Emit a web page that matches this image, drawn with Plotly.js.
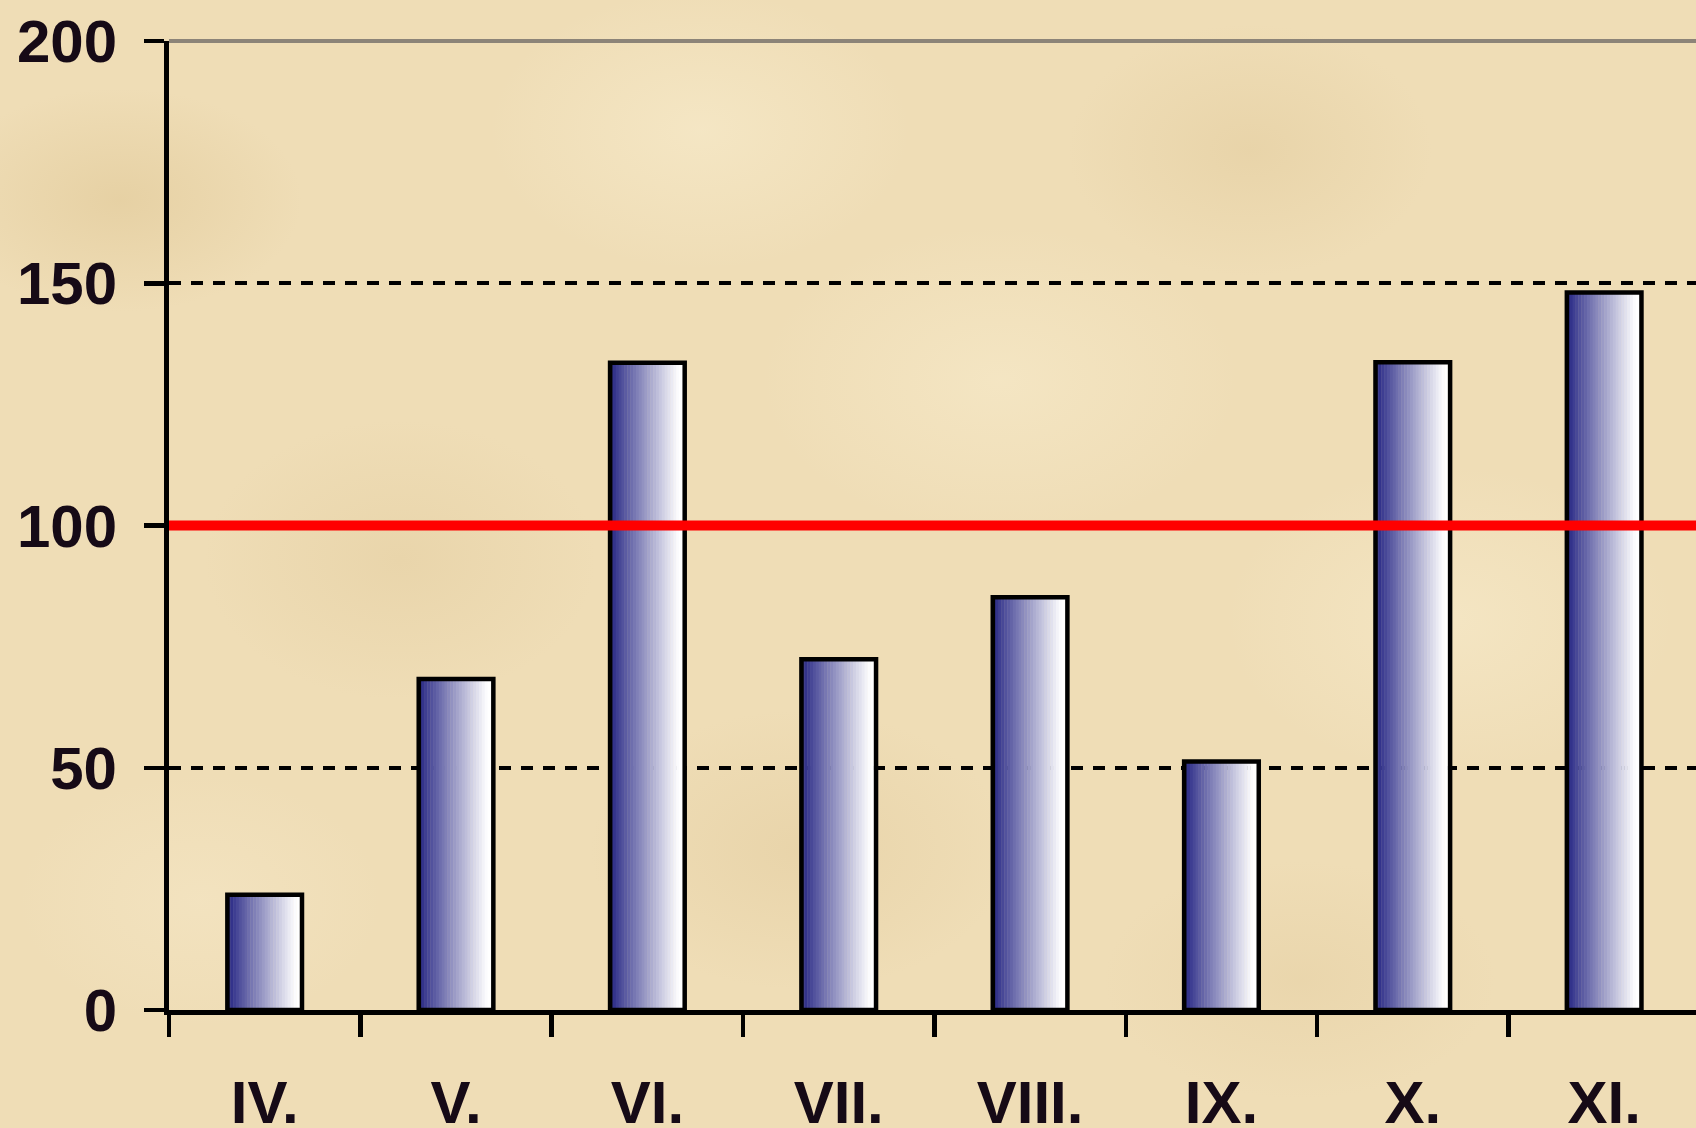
<!DOCTYPE html>
<html>
<head>
<meta charset="utf-8">
<script src="https://cdn.plot.ly/plotly-3.0.1.min.js"></script>
<style>
  html, body { margin: 0; padding: 0; width: 1696px; height: 1128px; overflow: hidden; }
  body {
    background-color: #efddb6;
    background-image:
      radial-gradient(ellipse 260px 160px at 120px 200px, rgba(214,186,130,0.35), rgba(214,186,130,0) 70%),
      radial-gradient(ellipse 300px 200px at 700px 130px, rgba(248,236,205,0.6), rgba(248,236,205,0) 70%),
      radial-gradient(ellipse 260px 180px at 1250px 150px, rgba(220,195,145,0.35), rgba(220,195,145,0) 70%),
      radial-gradient(ellipse 340px 220px at 1000px 380px, rgba(248,236,205,0.55), rgba(248,236,205,0) 70%),
      radial-gradient(ellipse 280px 200px at 400px 560px, rgba(222,198,150,0.35), rgba(222,198,150,0) 70%),
      radial-gradient(ellipse 320px 220px at 1450px 620px, rgba(248,236,205,0.55), rgba(248,236,205,0) 70%),
      radial-gradient(ellipse 300px 200px at 800px 850px, rgba(218,192,142,0.3), rgba(218,192,142,0) 70%),
      radial-gradient(ellipse 260px 180px at 200px 900px, rgba(246,232,200,0.5), rgba(246,232,200,0) 70%),
      radial-gradient(ellipse 280px 170px at 1300px 980px, rgba(222,198,150,0.3), rgba(222,198,150,0) 70%);
  }
  #chart { width: 1696px; height: 1128px; }
</style>
</head>
<body>
<div id="chart"></div>
<script>
// ---- data ----
const categories = ['IV.', 'V.', 'VI.', 'VII.', 'VIII.', 'IX.', 'X.', 'XI.'];
const values = [23.8, 68.3, 133.6, 72.4, 85.2, 51.3, 133.7, 148.1];
const yTickVals = [0, 50, 100, 150, 200];
const yTickText = ['0', '50', '100', '150', '200'];
const referenceValue = 100;

// ---- styling ----
const barWidth = 0.39;
const strips = 26;
const dark = [36, 36, 104];
const mid = [52, 52, 140];
const light = [255, 255, 255];

function stripColor(t) {
  let c;
  if (t < 0.06) {
    const u = t / 0.06;
    c = dark.map((d, k) => d + (mid[k] - d) * u);
  } else {
    const u = Math.min(1, Math.pow((t - 0.06) / 0.86, 0.95));
    c = mid.map((m, k) => m + (light[k] - m) * u);
  }
  return 'rgb(' + c.map(v => Math.round(v)).join(',') + ')';
}

const traces = [];
const sw = barWidth / strips;
for (let i = 0; i < strips; i++) {
  traces.push({
    type: 'bar',
    x: categories,
    y: values,
    width: sw * 1.15,
    offset: -barWidth / 2 + i * sw,
    marker: { color: stripColor((i + 0.5) / strips), line: { width: 0 } },
    hoverinfo: 'skip',
    showlegend: false
  });
}
traces.push({
  type: 'bar',
  x: categories,
  y: values,
  width: barWidth,
  offset: -barWidth / 2,
  marker: { color: 'rgba(0,0,0,0)', line: { color: '#000000', width: 4.5 } },
  hoverinfo: 'skip',
  showlegend: false
});

const tickFont = { family: 'Liberation Sans, Arial, sans-serif', size: 60, color: '#160a16', weight: 'bold' };

const layout = {
  width: 1696,
  height: 1128,
  margin: { l: 169, r: 0, t: 41, b: 118, pad: 0 },
  paper_bgcolor: 'rgba(0,0,0,0)',
  plot_bgcolor: 'rgba(0,0,0,0)',
  barmode: 'overlay',
  showlegend: false,
  xaxis: {
    type: 'category',
    range: [-0.5, 7.48],
    showline: true,
    linecolor: '#000000',
    linewidth: 5,
    ticks: 'outside',
    tickson: 'boundaries',
    ticklen: 22,
    tickwidth: 4.5,
    tickcolor: '#000000',
    showgrid: false,
    zeroline: false,
    tickfont: tickFont,
    ticklabelstandoff: 36
  },
  yaxis: {
    range: [0, 200],
    tickvals: yTickVals,
    ticktext: yTickText,
    showline: true,
    linecolor: '#000000',
    linewidth: 5,
    ticks: 'outside',
    ticklen: 20,
    tickwidth: 4.5,
    tickcolor: '#000000',
    showgrid: true,
    gridcolor: '#000000',
    gridwidth: 4,
    griddash: '12px,10px',
    zeroline: false,
    tickfont: tickFont,
    ticklabelstandoff: 15
  },
  shapes: [
    {
      type: 'line', xref: 'paper', yref: 'paper',
      x0: 0, x1: 1, y0: 1, y1: 1,
      line: { color: '#8c8478', width: 4 },
      layer: 'above'
    },
    {
      type: 'line', xref: 'paper', yref: 'y',
      x0: 0, x1: 1, y0: referenceValue, y1: referenceValue,
      line: { color: '#ff0000', width: 10 },
      layer: 'above'
    }
  ]
};

Plotly.newPlot('chart', traces, layout, { displayModeBar: false, staticPlot: true });
</script>
</body>
</html>
